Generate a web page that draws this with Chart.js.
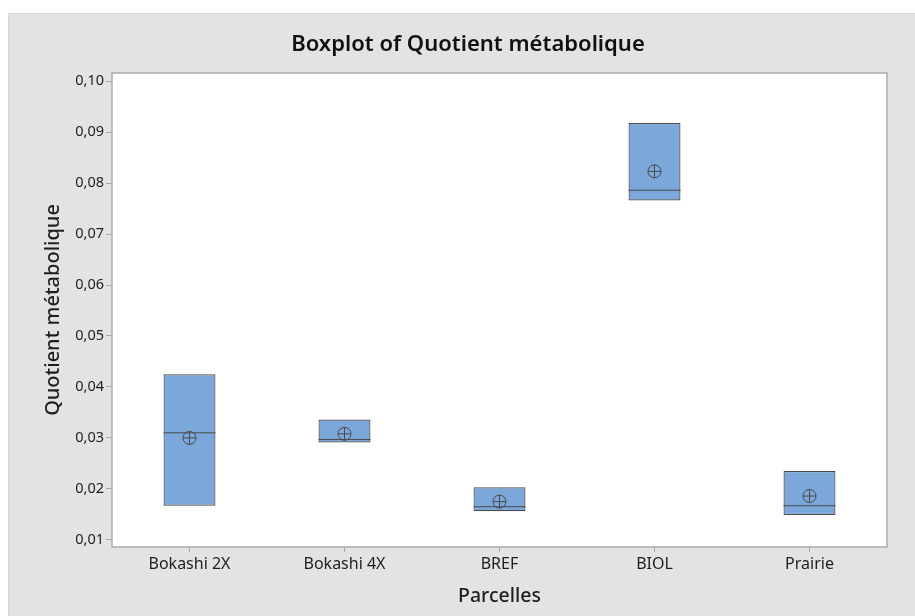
<!DOCTYPE html>
<html>
<head>
<meta charset="utf-8">
<script src="https://cdn.jsdelivr.net/npm/chart.js@4.4.1/dist/chart.umd.min.js"></script>
<style>
  body { margin: 0; background: #fff; }
  #wrap { position: absolute; left: 8px; top: 13px; width: 907px; height: 603px; background: #e3e3e3; border-top: 1px solid #d6d6d6; border-left: 1px solid #d6d6d6; box-sizing: border-box; }
  canvas { position: absolute; left: -1px; top: -1px; }
</style>
</head>
<body>
<div id="wrap"><canvas id="myChart" width="907" height="603"></canvas></div>
<script>
var ctx = document.getElementById('myChart').getContext('2d');

// valeurs
var parcelles = ['Bokashi 2X', 'Bokashi 4X', 'BREF', 'BIOL', 'Prairie'];
var q1 = [0.0167, 0.0291, 0.0156, 0.0766, 0.0149];
var q3 = [0.0425, 0.0336, 0.0203, 0.0918, 0.0235];
var medianes = [0.0310, 0.0297, 0.0165, 0.0786, 0.0167];
var moyennes = [0.0300, 0.0308, 0.0175, 0.0823, 0.0186];
var yTicks = [0.01, 0.02, 0.03, 0.04, 0.05, 0.06, 0.07, 0.08, 0.09, 0.10];

var boites = [];
for (let i = 0; i < parcelles.length; i++) {
    boites.push([q1[i], q3[i]]);
}

var font = 'Noto Sans';
var trait = '#4a4a4a';
var texte = '#1e1e1e';

var fondPlot = {
    id: 'fondPlot',
    beforeDatasetsDraw: function(chart) {
        let a = chart.chartArea;
        let c = chart.ctx;
        c.save();
        c.fillStyle = '#ffffff';
        c.fillRect(a.left, a.top, a.right - a.left, a.bottom - a.top);
        c.strokeStyle = '#adadad';
        c.lineWidth = 1.5;
        c.strokeRect(a.left, a.top, a.right - a.left, a.bottom - a.top);
        c.restore();
    }
};

var myChart = new Chart(ctx, {
    type: 'bar',
    data: {
        labels: parcelles,
        datasets: [{
            type: 'bar',
            data: boites,
            backgroundColor: '#7ba7da',
            borderColor: trait,
            borderWidth: 1.2,
            borderSkipped: false,
            categoryPercentage: 0.335,
            barPercentage: 1,
            order: 3
        }, {
            type: 'line',
            data: medianes,
            showLine: false,
            pointStyle: 'line',
            pointRadius: 26,
            pointBorderColor: trait,
            pointBorderWidth: 1,
            order: 2
        }, {
            type: 'line',
            data: moyennes,
            showLine: false,
            pointStyle: 'circle',
            pointRadius: 6.5,
            pointBackgroundColor: 'rgba(0,0,0,0)',
            pointBorderColor: trait,
            pointBorderWidth: 1,
            order: 1
        }, {
            type: 'line',
            data: moyennes,
            showLine: false,
            pointStyle: 'cross',
            pointRadius: 6.5,
            pointBorderColor: trait,
            pointBorderWidth: 1,
            order: 0
        }]
    },
    options: {
        responsive: false,
        animation: false,
        layout: { padding: { left: 13, right: 0, top: 0, bottom: 0 } },
        plugins: {
            legend: { display: false },
            tooltip: { enabled: false },
            title: {
                display: true,
                text: 'Boxplot of Quotient métabolique',
                color: '#111',
                font: { family: font, size: 22, weight: '600' },
                padding: { top: 19, bottom: 14.6 }
            }
        },
        scales: {
            x: {
                offset: true,
                afterFit: function(scale) { scale.height = 69; },
                grid: { display: true, offset: false, drawOnChartArea: false, tickLength: 5, tickColor: '#a8a8a8' },
                border: { display: false },
                ticks: { color: texte, padding: 3, font: { family: font, size: 16 } },
                title: {
                    display: true,
                    text: 'Parcelles',
                    color: texte,
                    font: { family: font, size: 19.5, weight: '500' },
                    padding: { top: 0, bottom: 8 }
                }
            },
            y: {
                min: 0.0086,
                max: 0.1016,
                afterFit: function(scale) { scale.width = 91; },
                afterBuildTicks: function(scale) {
                    scale.ticks = yTicks.map(function(v) { return { value: v }; });
                },
                grid: { display: true, drawOnChartArea: false, tickLength: 6, tickColor: '#a8a8a8' },
                border: { display: false },
                ticks: {
                    color: texte,
                    padding: 2,
                    font: { family: font, size: 14.5 },
                    callback: function(v) { return v.toFixed(2).replace('.', ','); }
                },
                title: {
                    display: true,
                    text: 'Quotient métabolique',
                    color: texte,
                    font: { family: font, size: 20, weight: '500' },
                    padding: { top: 20, bottom: 0 }
                }
            },
            marge: {
                type: 'linear',
                position: 'right',
                display: true,
                afterFit: function(scale) { scale.width = 28; },
                grid: { display: false },
                border: { display: false },
                ticks: { display: false }
            }
        }
    },
    plugins: [fondPlot]
});
</script>
</body>
</html>
